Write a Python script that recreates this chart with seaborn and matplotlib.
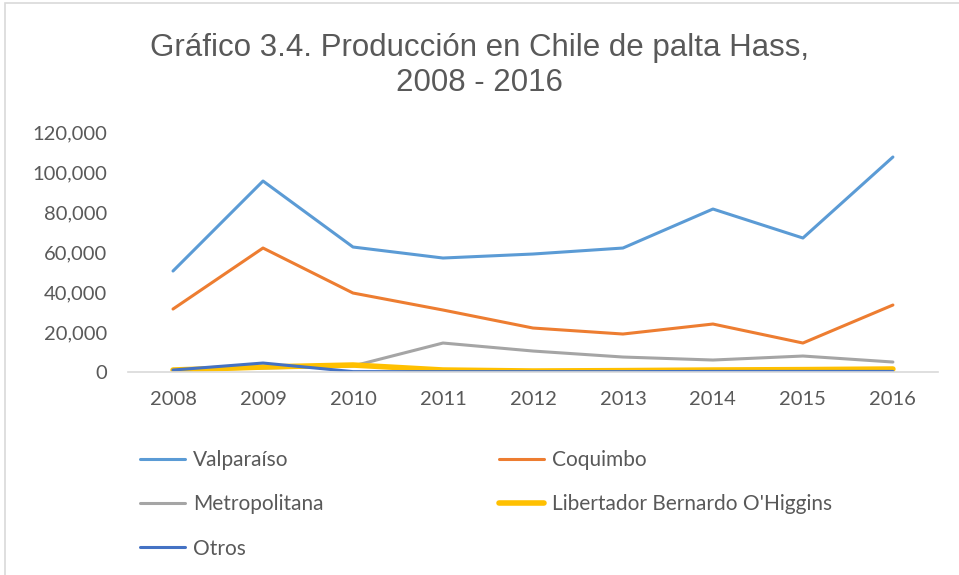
import matplotlib.pyplot as plt
import seaborn as sns
import pandas as pd
from matplotlib.ticker import FuncFormatter
from matplotlib.patches import Rectangle

years = ['2008', '2009', '2010', '2011', '2012', '2013', '2014', '2015', '2016']
valparaiso = [50500, 95500, 62500, 57000, 59000, 62000, 81500, 67000, 107500]
coquimbo = [31500, 62000, 39500, 31000, 22000, 19000, 24000, 14500, 33500]
metropolitana = [1000, 2000, 3000, 14500, 10500, 7500, 6000, 8000, 5000]
ohiggins = [1000, 2500, 3500, 1000, 500, 700, 1000, 1200, 1500]
otros = [1000, 4500, 200, 200, 200, 200, 300, 300, 300]

series = [
    ('Valparaíso', valparaiso, '#5B9BD5', 2.2),
    ('Coquimbo', coquimbo, '#ED7D31', 2.2),
    ('Metropolitana', metropolitana, '#A5A5A5', 2.2),
    ("Libertador Bernardo O'Higgins", ohiggins, '#FFC000', 4.0),
    ('Otros', otros, '#4472C4', 2.2),
]

sns.set_style('white')
plt.rcParams['font.family'] = ['Lato', 'DejaVu Sans']

fig = plt.figure(figsize=(9.59, 5.75), dpi=100)
ax = fig.add_axes([0.1335, 0.353, 0.8445, 0.4174])

handles = {}
for name, vals, col, lw in series:
    df = pd.DataFrame({'x': range(len(years)), 'y': vals})
    sns.lineplot(data=df, x='x', y='y', ax=ax, color=col, linewidth=lw,
                 label=name, solid_capstyle='round')
    handles[name] = ax.get_lines()[-1]

ax.set_xlim(-0.5, len(years) - 0.5)
ax.set_ylim(0, 120000)
ax.set_yticks(range(0, 120001, 20000))
ax.yaxis.set_major_formatter(FuncFormatter(lambda v, p: f'{int(v):,}'))
ax.set_xticks(range(len(years)))
ax.set_xticklabels(years)
ax.set_xlabel('')
ax.set_ylabel('')
ax.tick_params(axis='both', length=0, labelsize=14.5, labelcolor='#595959')
ax.tick_params(axis='x', pad=14)
ax.tick_params(axis='y', pad=15)
for s in ['top', 'right', 'left']:
    ax.spines[s].set_visible(False)
ax.spines['bottom'].set_color('#D9D9D9')
ax.spines['bottom'].set_linewidth(1.2)
ax.get_legend().remove()

order = ['Valparaíso', 'Metropolitana', 'Otros', 'Coquimbo', "Libertador Bernardo O'Higgins"]
leg = fig.legend([handles[n] for n in order], order, ncol=2, loc='upper left',
                 bbox_to_anchor=(0.146, 0.217), frameon=False, fontsize=15,
                 handlelength=2.16, handletextpad=0.38, columnspacing=8.45,
                 labelspacing=1.16, borderaxespad=0, borderpad=0)
for t in leg.get_texts():
    t.set_color('#595959')

fig.text(0.5, 0.943, 'Gráfico 3.4. Producción en Chile de palta Hass,\n2008 - 2016',
         ha='center', va='top', fontsize=22.5, color='#595959',
         family=['Liberation Sans', 'DejaVu Sans'], linespacing=1.24)

fig.patches.append(Rectangle((0.005, -0.01), 1.1, 1.005, transform=fig.transFigure,
                             fill=False, edgecolor='#D9D9D9', linewidth=1.2))

fig.savefig('out.png', dpi=100)
